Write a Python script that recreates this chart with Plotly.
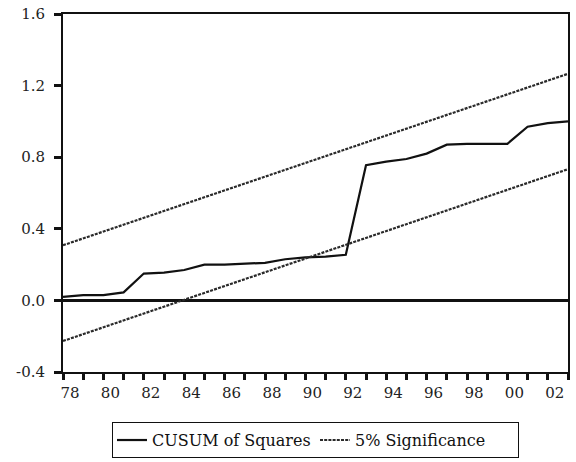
import plotly.graph_objects as go

# ---- data ----
years = list(range(1978, 2004))  # 26 observation positions
cusum_sq = [0.02, 0.03, 0.03, 0.045, 0.15, 0.155, 0.17, 0.20, 0.20, 0.205,
            0.21, 0.23, 0.24, 0.245, 0.255, 0.755, 0.775, 0.79, 0.82, 0.87,
            0.875, 0.875, 0.875, 0.97, 0.99, 1.0]
upper_ends = [0.308, 1.266]   # 5% significance upper bound (straight line)
lower_ends = [-0.227, 0.733]  # 5% significance lower bound (straight line)
bound_x = [years[0], years[-1]]

y_tick_vals = [-0.4, 0.0, 0.4, 0.8, 1.2, 1.6]
y_tick_text = ["-0.4", "0.0", "0.4", "0.8", "1.2", "1.6"]
x_label_years = list(range(1978, 2003, 2))
x_label_text = ["78", "80", "82", "84", "86", "88", "90", "92", "94", "96", "98", "00", "02"]

lab = dict(zip(x_label_years, x_label_text))
x_tick_text = [lab.get(y, "") for y in years]

FONT = "DejaVu Serif"

fig = go.Figure()
fig.add_trace(go.Scatter(
    x=years, y=cusum_sq, mode="lines", name="CUSUM of Squares",
    line=dict(color="#111111", width=2.2)))
fig.add_trace(go.Scatter(
    x=bound_x, y=upper_ends, mode="lines", name="5% Significance",
    legendgroup="sig",
    line=dict(color="#2a2a2a", width=2.2, dash="3px,1.2px")))
fig.add_trace(go.Scatter(
    x=bound_x, y=lower_ends, mode="lines", name="5% Significance",
    legendgroup="sig", showlegend=False,
    line=dict(color="#2a2a2a", width=2.2, dash="3px,1.2px")))

fig.update_layout(
    width=576, height=462,
    margin=dict(l=63, r=8, t=14, b=90, autoexpand=False),
    paper_bgcolor="white", plot_bgcolor="white",
    font=dict(family=FONT, size=15, color="#222222"),
    showlegend=True,
    legend=dict(
        orientation="h", x=0.5, xanchor="center", y=-0.14, yanchor="top",
        bordercolor="#111111", borderwidth=1, bgcolor="white",
        font=dict(family=FONT, size=16, color="#111111"),
        entrywidth=158,
    ),
)
fig.update_xaxes(
    range=[years[0], years[-1]],
    tickmode="array", tickvals=years, ticktext=x_tick_text,
    ticks="outside", ticklen=6, tickwidth=2.5, tickcolor="#111111",
    ticklabelshift=7, ticklabelstandoff=0, automargin=False,
    showline=True, linecolor="#111111", linewidth=2, mirror=True,
    showgrid=False, zeroline=False,
)
fig.update_yaxes(
    range=[-0.4, 1.6],
    tickmode="array", tickvals=y_tick_vals, ticktext=y_tick_text,
    ticks="outside", ticklen=7, tickwidth=3, tickcolor="#111111",
    ticklabelstandoff=6, automargin=False,
    showline=True, linecolor="#111111", linewidth=2, mirror=True,
    showgrid=False,
    zeroline=True, zerolinecolor="#111111", zerolinewidth=3,
)

fig.write_html("out.html")
